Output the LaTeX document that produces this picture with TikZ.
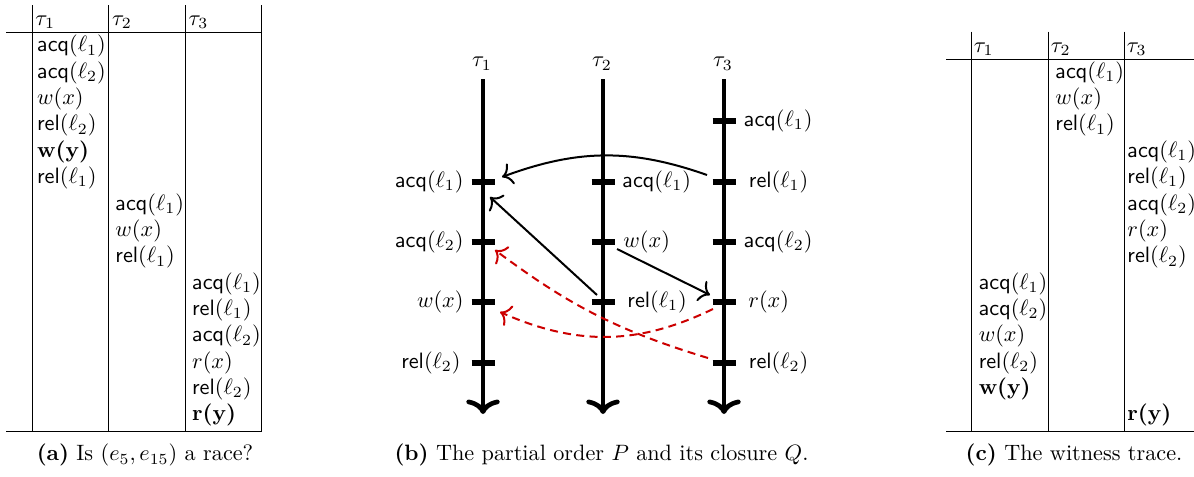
\documentclass[tikz,border=0pt]{standalone}
\usetikzlibrary{arrows.meta,bending}
\definecolor{qred}{HTML}{CC0000}
\newcommand{\opacq}[1]{$\mathsf{acq}(\ell_{#1})$}
\newcommand{\oprel}[1]{$\mathsf{rel}(\ell_{#1})$}
\newcommand{\opw}{$w(x)$}
\newcommand{\opr}{$r(x)$}
\tikzset{
  tabtext/.style={anchor=west, inner sep=0pt, text height=7.5pt, text depth=2.5pt},
  tabrule/.style={line width=0.5pt},
  thread/.style={line width=2.1pt, -{Computer Modern Rightarrow[length=6.5pt,width=15pt]}},
  evtick/.style={line width=3pt},
  evlabel/.style={inner sep=0pt, text height=7.5pt, text depth=2.5pt},
  porder/.style={line width=0.9pt, -{Computer Modern Rightarrow[length=4.5pt,width=10pt]}},
  qorder/.style={porder, draw=qred, dash pattern=on 3.6pt off 2.4pt},
  subcap/.style={anchor=base, inner sep=0pt}
}
\begin{document}
\begin{tikzpicture}[x=0.45pt, y=-0.45pt]
  \useasboundingbox (0,0) rectangle (1194,476);
  \clip (0,0) rectangle (1194,476);

  % (a) the trace
  \draw[tabrule] (32.5,5) -- (32.5,431.5);
  \draw[tabrule] (108.5,5) -- (108.5,431.5);
  \draw[tabrule] (185.5,5) -- (185.5,431.5);
  \draw[tabrule] (261.5,5) -- (261.5,431.5);
  \draw[tabrule] (6,32.5) -- (261.5,32.5);
  \draw[tabrule] (6,431.5) -- (261.5,431.5);
  \node[tabtext] (ah1) at (35,20) {$\tau_1$};
  \node[tabtext] (ah2) at (111.7,20) {$\tau_2$};
  \node[tabtext] (ah3) at (188.3,20) {$\tau_3$};
  \node[tabtext] (a1) at (36.7,46.3) {\opacq{1}};
  \node[tabtext] (a2) at (36.7,72.7) {\opacq{2}};
  \node[tabtext] (a3) at (36.7,99.0) {\opw};
  \node[tabtext] (a4) at (36.7,125.4) {\oprel{2}};
  \node[tabtext] (a5) at (36.7,151.7) {\textbf{w(y)}};
  \node[tabtext] (a6) at (36.7,178.1) {\oprel{1}};
  \node[tabtext] (a7) at (115,204.5) {\opacq{1}};
  \node[tabtext] (a8) at (115,230.8) {\opw};
  \node[tabtext] (a9) at (115,257.2) {\oprel{1}};
  \node[tabtext] (a10) at (191.7,283.5) {\opacq{1}};
  \node[tabtext] (a11) at (191.7,309.9) {\oprel{1}};
  \node[tabtext] (a12) at (191.7,336.3) {\opacq{2}};
  \node[tabtext] (a13) at (191.7,362.6) {\opr};
  \node[tabtext] (a14) at (191.7,389.0) {\oprel{2}};
  \node[tabtext] (a15) at (191.7,415.3) {\textbf{r(y)}};
  \node[subcap] (capa) at (145,460.7) {\textbf{(a)} Is $(e_5, e_{15})$ a race?};

  % (b) partial order and closure
  \coordinate (top1) at (483,79);
  \coordinate (bot1) at (483,414);
  \coordinate (top2) at (603,79);
  \coordinate (bot2) at (603,414);
  \coordinate (top3) at (724,79);
  \coordinate (bot3) at (724,414);
  \draw[thread] (top1) -- (bot1);
  \draw[thread] (top2) -- (bot2);
  \draw[thread] (top3) -- (bot3);
  \node[anchor=base, inner sep=0pt] (bt1) at (482,66.7) {$\tau_1$};
  \node[anchor=base, inner sep=0pt] (bt2) at (602,66.7) {$\tau_2$};
  \node[anchor=base, inner sep=0pt] (bt3) at (723,66.7) {$\tau_3$};
  \coordinate (p1a) at (483,182);
  \coordinate (p1b) at (483,242);
  \coordinate (p1c) at (483,302);
  \coordinate (p1d) at (483,363);
  \coordinate (p2a) at (603,182);
  \coordinate (p2b) at (603,242);
  \coordinate (p2c) at (603,302);
  \coordinate (p3a) at (724,121);
  \coordinate (p3b) at (724,182);
  \coordinate (p3c) at (724,242);
  \coordinate (p3d) at (724,302);
  \coordinate (p3e) at (724,363);
  \draw[evtick] (p1a) ++(-11.5,0) -- ++(23,0);
  \draw[evtick] (p1b) ++(-11.5,0) -- ++(23,0);
  \draw[evtick] (p1c) ++(-11.5,0) -- ++(23,0);
  \draw[evtick] (p1d) ++(-11.5,0) -- ++(23,0);
  \draw[evtick] (p2a) ++(-11.5,0) -- ++(23,0);
  \draw[evtick] (p2b) ++(-11.5,0) -- ++(23,0);
  \draw[evtick] (p2c) ++(-11.5,0) -- ++(23,0);
  \draw[evtick] (p3a) ++(-11.5,0) -- ++(23,0);
  \draw[evtick] (p3b) ++(-11.5,0) -- ++(23,0);
  \draw[evtick] (p3c) ++(-11.5,0) -- ++(23,0);
  \draw[evtick] (p3d) ++(-11.5,0) -- ++(23,0);
  \draw[evtick] (p3e) ++(-11.5,0) -- ++(23,0);
  \node[evlabel, anchor=east] (l1a) at (464,182) {\opacq{1}};
  \node[evlabel, anchor=east] (l1b) at (464,242) {\opacq{2}};
  \node[evlabel, anchor=east] (l1c) at (464,302) {\opw};
  \node[evlabel, anchor=east] (l1d) at (461,363) {\oprel{2}};
  \node[evlabel, anchor=west] (l2a) at (622,182) {\opacq{1}};
  \node[evlabel, anchor=west] (l2b) at (623,242) {\opw};
  \node[evlabel, anchor=west] (l2c) at (627,302) {\oprel{1}};
  \node[evlabel, anchor=west] (l3a) at (743.5,121) {\opacq{1}};
  \node[evlabel, anchor=west] (l3b) at (748.5,182) {\oprel{1}};
  \node[evlabel, anchor=west] (l3c) at (743.5,242) {\opacq{2}};
  \node[evlabel, anchor=west] (l3d) at (748,302) {\opr};
  \node[evlabel, anchor=west] (l3e) at (748.5,363) {\oprel{2}};
  \draw[porder] ([shift={(-17,-7)}]p3b) to[bend right=20] ([shift={(19,-5)}]p1a);
  \draw[porder] ([shift={(-6,-7)}]p2c) -- ([shift={(7,15)}]p1a);
  \draw[porder] ([shift={(14,7)}]p2b) -- ([shift={(-14,-7)}]p3d);
  \draw[qorder] ([shift={(-16,-5)}]p3e) to[bend left=10] ([shift={(12,8)}]p1b);
  \draw[qorder] ([shift={(-11,7)}]p3d) to[bend left=25] ([shift={(17,10)}]p1c);
  \node[subcap] (capb) at (601.5,460.7) {\textbf{(b)} The partial order $P$ and its closure $Q$.};

  % (c) the witness trace
  \draw[tabrule] (971.5,31.5) -- (971.5,431.5);
  \draw[tabrule] (1048.5,31.5) -- (1048.5,431.5);
  \draw[tabrule] (1124.5,31.5) -- (1124.5,431.5);
  \draw[tabrule] (946,59.5) -- (1194,59.5);
  \draw[tabrule] (946,431.5) -- (1194,431.5);
  \node[tabtext] (ch1) at (973.5,46.5) {$\tau_1$};
  \node[tabtext] (ch2) at (1050.5,46.5) {$\tau_2$};
  \node[tabtext] (ch3) at (1126.5,46.5) {$\tau_3$};
  \node[tabtext] (c1) at (1055,72.7) {\opacq{1}};
  \node[tabtext] (c2) at (1055,99.0) {\opw};
  \node[tabtext] (c3) at (1055,125.4) {\oprel{1}};
  \node[tabtext] (c4) at (1127,151.7) {\opacq{1}};
  \node[tabtext] (c5) at (1127,178.1) {\oprel{1}};
  \node[tabtext] (c6) at (1127,204.5) {\opacq{2}};
  \node[tabtext] (c7) at (1127,230.8) {\opr};
  \node[tabtext] (c8) at (1127,257.2) {\oprel{2}};
  \node[tabtext] (c9) at (978.3,283.5) {\opacq{1}};
  \node[tabtext] (c10) at (978.3,309.9) {\opacq{2}};
  \node[tabtext] (c11) at (978.3,336.3) {\opw};
  \node[tabtext] (c12) at (978.3,362.6) {\oprel{2}};
  \node[tabtext] (c13) at (978.3,389.0) {\textbf{w(y)}};
  \node[tabtext] (c14) at (1127,415.3) {\textbf{r(y)}};
  \node[subcap] (capc) at (1074,460.7) {\textbf{(c)} The witness trace.};
\end{tikzpicture}
\end{document}
